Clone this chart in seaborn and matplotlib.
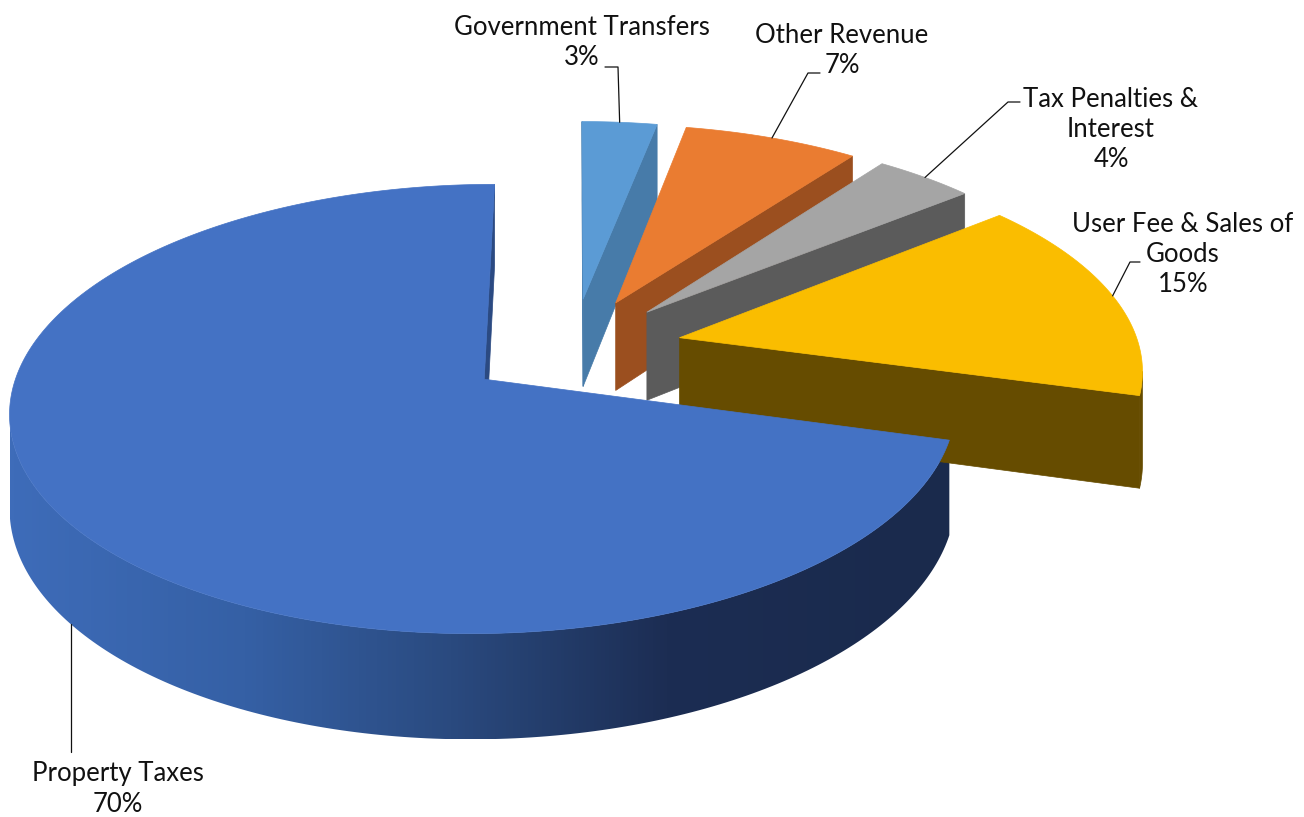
import numpy as np
import matplotlib
matplotlib.use("Agg")
import matplotlib.pyplot as plt
from matplotlib.collections import PolyCollection
from matplotlib.colors import LinearSegmentedColormap
from matplotlib.patches import Polygon
import seaborn as sns

# --- data ---
categories = ["Government Transfers", "Other Revenue", "Tax Penalties &\nInterest",
              "User Fee & Sales of\nGoods", "Property Taxes"]
shares = [3, 7, 4, 15, 70]
top_colors = ["#5B9BD5", "#EA7C31", "#A5A5A5", "#FABD00", "#4472C4"]
side_colors = ["#477BA9", "#9B4F1F", "#5B5B5B", "#664C00", "#2B4A82"]

# --- layout of the fake 3d pie (screen pixels) ---
CX, CY = 573, 348
RX, RY = 460, 212.5
PERSP = 0.13
DEPTH = 90
EXPLODE = 0.238

# label block centres and leader starts (start x, start y, elbow dx)
label_pos = [(582, 42), (842, 50), (1111, 129), (1183, 254), (118, 789)]
leader_start = [(605, 67, 13), (820, 73, -12), (1020, 102, -12), (1140, 262, -10), (None, 752, 0)]

sns.set_theme(style="white")
plt.rcParams["font.family"] = ["Lato", "DejaVu Sans"]
palette = sns.color_palette(top_colors)


def project(u, v, z=0.0):
    p = 1.0 / (1.0 + PERSP * v)
    return CX + RX * u * p, CY - RY * v * p + DEPTH * z * p


def signed_area(pts):
    x = np.array([q[0] for q in pts])
    y = np.array([q[1] for q in pts])
    return 0.5 * np.sum(x * np.roll(y, -1) - np.roll(x, -1) * y)


fig = plt.figure(figsize=(13.04, 8.17), dpi=100)
ax = fig.add_axes([0, 0, 1, 1])
ax.set_xlim(0, 1304)
ax.set_ylim(817, 0)
ax.axis("off")

# shading of the big slice's rim, dark to the right
wall_cmap = LinearSegmentedColormap.from_list(
    "wall", [(0, "#3E6CB9"), (0.25, "#3560A5"), (0.47, "#2A4A7F"),
             (0.7, "#1C2D53"), (1, "#1A2A4C")])

# angles: start at 12 o'clock and go clockwise
total = sum(shares)
slices = []
cum = 0
for i, s in enumerate(shares):
    hi = 90 - 360 * cum / total
    lo = hi - 360 * s / total
    cum += s
    mid = np.radians((hi + lo) / 2)
    cu, cv = EXPLODE * np.cos(mid), EXPLODE * np.sin(mid)
    slices.append(dict(i=i, lo=lo, hi=hi, mid=mid, cu=cu, cv=cv))

# back to front
for sl in sorted(slices, key=lambda d: -d["cv"]):
    i, lo, hi, cu, cv = sl["i"], sl["lo"], sl["hi"], sl["cu"], sl["cv"]
    th = np.radians(np.linspace(lo, hi, 300))
    us, vs = cu + np.cos(th), cv + np.sin(th)

    # outer wall: keep the part facing the viewer
    vis = []
    for k in range(len(th) - 1):
        q = [project(us[k], vs[k]), project(us[k + 1], vs[k + 1]),
             project(us[k + 1], vs[k + 1], 1), project(us[k], vs[k], 1)]
        if signed_area(q) > 0:
            vis.append(k)
    if vis:
        ks = range(vis[0], vis[-1] + 2)
        rim = [project(us[k], vs[k]) for k in ks] + \
              [project(us[k], vs[k], 1) for k in reversed(ks)]
        if i == len(shares) - 1:
            patch = Polygon(rim, closed=True, fc="none", ec="none")
            ax.add_patch(patch)
            xs = [p[0] for p in rim]
            ys = [p[1] for p in rim]
            grad = np.linspace(0, 1, 256).reshape(1, -1)
            img = ax.imshow(grad, cmap=wall_cmap, aspect="auto",
                            extent=[min(xs), min(xs) + 940, max(ys), min(ys)])
            img.set_clip_path(patch)
        else:
            ax.fill(*zip(*rim), color=side_colors[i], lw=0.5, ec=side_colors[i])

    # radial cut faces
    for ang, sign in ((lo, 1), (hi, -1)):
        a = np.radians(ang)
        q = [project(cu, cv), project(cu + np.cos(a), cv + np.sin(a)),
             project(cu + np.cos(a), cv + np.sin(a), 1), project(cu, cv, 1)]
        if sign * signed_area(q) > 0:
            ax.fill(*zip(*q), color=side_colors[i], lw=0.5, ec=side_colors[i])

    # top face
    top = [project(cu, cv)] + [project(u, v) for u, v in zip(us, vs)]
    ax.fill(*zip(*top), color=palette[i], lw=0.5, ec=palette[i])

ax.set_xlim(0, 1304)
ax.set_ylim(817, 0)

# labels and leader lines
for sl in slices:
    i = sl["i"]
    au, av = sl["cu"] + np.cos(sl["mid"]), sl["cv"] + np.sin(sl["mid"])
    front = np.sin(sl["mid"]) < 0
    attach = project(au, av, 1 if front else 0)
    sx, sy, dx = leader_start[i]
    if sx is None:
        sx = attach[0]
    ax.plot([sx, sx + dx, attach[0]], [sy, sy, attach[1]], color="#111111", lw=0.9)
    tx, ty = label_pos[i]
    ax.text(tx, ty, f"{categories[i]}\n{shares[i]}%", ha="center", va="center",
            fontsize=18.5, color="#111111", linespacing=1.25)

fig.savefig("out.png", dpi=100)
